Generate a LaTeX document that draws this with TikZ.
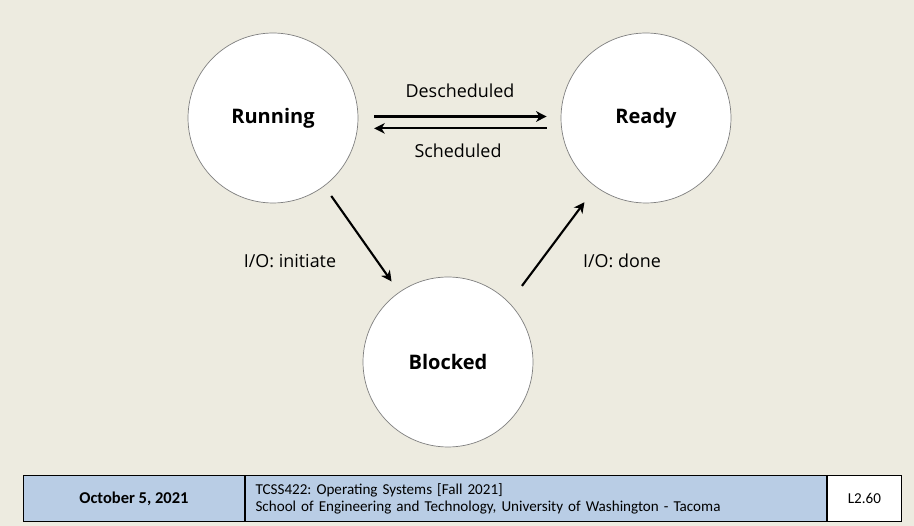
\documentclass[tikz,border=0pt]{standalone}
\usepackage{fontspec}
\setmainfont{Open Sans}
\newfontfamily\footfont{Carlito}
\usetikzlibrary{arrows.meta}
\definecolor{slidebg}{RGB}{237,235,224}
\definecolor{footblue}{RGB}{185,205,229}
\definecolor{ringgray}{RGB}{128,128,128}
\frenchspacing

\begin{document}
\begin{tikzpicture}[x=0.02cm, y=-0.02cm,
    state/.style={circle, draw=ringgray, line width=0.4pt, fill=white,
        minimum size=3.4cm, inner sep=0pt,
        font=\fontsize{11.4}{14}\selectfont\bfseries},
    trans/.style={-{Stealth[length=6pt,width=6pt,inset=1.8pt]}, line width=1.2pt},
    lbl/.style={font=\fontsize{10.2}{12}\selectfont, inner sep=0pt},
    foot/.style={draw=black, line width=0.6pt, minimum height=0.92cm, inner sep=0pt,
        anchor=north west, font=\footfont\fontsize{8.6}{9.8}\selectfont}]

    % slide background
    \fill[slidebg] (0,0) rectangle (914,526);
    \useasboundingbox (0,0) rectangle (914,526);

    % states
    \node[state] (run) at (273,118) {Running};
    \node[state] (rdy) at (646,118) {Ready};
    \node[state] (blk) at (448,362) {Blocked};

    % transition labels
    \node[lbl] (desch) at (460,91) {Descheduled};
    \node[lbl] (sched) at (458,151) {Scheduled};
    \node[lbl] (ioinit) at (290,261) {I/O: initiate};
    \node[lbl] (iodone) at (622,261) {I/O: done};

    % edges
    \draw[trans, shorten <=0.32cm, shorten >=0.28cm] (run.1) -- (rdy.179);
    \draw[trans, shorten <=0.29cm, shorten >=0.33cm] (rdy.187.4) -- (run.-7.4);
    \draw[trans, shorten <=0.24cm, shorten >=0.26cm] (run.-53) -- (blk.125);
    \draw[trans, shorten <=0.42cm, shorten >=0.38cm] (blk.44) -- (rdy.234);

    % footer bar
    \node[foot, fill=footblue, minimum width=4.42cm, font=\footfont\fontsize{9.4}{10}\selectfont\bfseries]
        (date) at (23,475) {October 5, 2021};
    \node[foot, fill=footblue, text width=11.22cm, inner xsep=0.2cm, align=left]
        (info) at (date.north east) {TCSS422: Operating Systems [Fall 2021]\\
        School of Engineering and Technology, University of Washington - Tacoma};
    \node[foot, fill=white, minimum width=1.48cm] (page) at (info.north east) {L2.60};
\end{tikzpicture}
\end{document}
